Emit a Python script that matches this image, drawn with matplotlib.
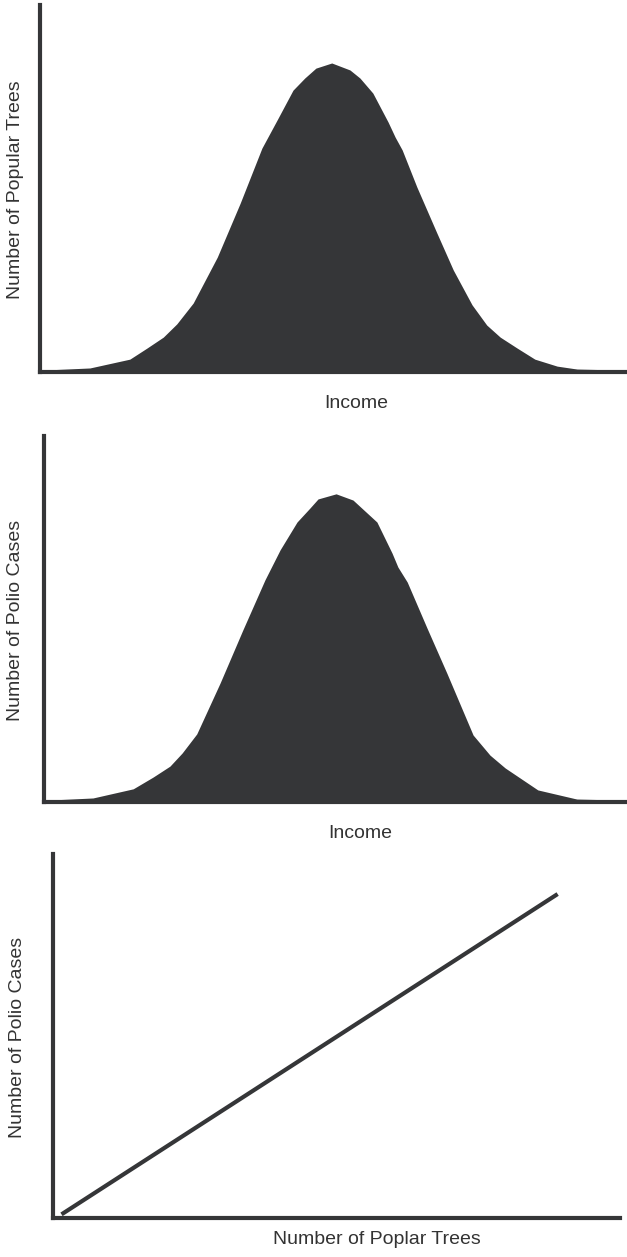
import matplotlib.pyplot as plt

plt.rcParams['font.family'] = ['Liberation Sans', 'DejaVu Sans']

# значения (шкалы 0..100)
income_1 = [0.3, 8.5, 15.3, 18.2, 21.0, 23.3, 26.1, 30.2, 34.1, 37.8, 40.4, 43.1, 45.1, 47.0,
            49.7, 52.8, 54.5, 56.7, 59.3, 60.5, 61.7, 64.2, 67.6, 70.4, 73.6, 76.1, 78.4,
            81.3, 84.3, 88.1, 91.5, 100]
trees_1 = [0.5, 1.1, 3.5, 6.5, 9.5, 13.1, 18.8, 31.3, 46.0, 61.0, 68.7, 76.8, 80.1, 82.8,
           84.2, 82.3, 80.1, 76.0, 68.1, 64.0, 60.5, 50.4, 37.9, 27.8, 18.3, 12.8, 9.5,
           6.5, 3.5, 1.6, 0.8, 0.5]

income_2 = [0.5, 8.4, 15.3, 18.7, 21.6, 23.7, 26.2, 30.2, 34.1, 37.9, 40.5, 43.4, 45.6, 47.0,
            50.1, 53.0, 57.1, 59.7, 60.7, 62.3, 65.7, 69.1, 73.6, 76.5, 79.1, 84.7, 91.4, 100]
polio_2 = [0.5, 1.1, 3.6, 6.8, 9.8, 13.4, 18.6, 32.5, 47.0, 60.7, 68.9, 76.5, 80.3, 82.8,
           84.2, 82.5, 76.5, 68.0, 64.2, 60.1, 47.5, 35.2, 18.3, 12.8, 9.3, 3.3, 0.8, 0.5]

poplar_3 = [1.5, 89]
polio_3 = [1, 89]

labels_y = ['Number of Popular Trees', 'Number of Polio Cases', 'Number of Polio Cases']
labels_x = ['Income', 'Income', 'Number of Poplar Trees']

W, H = 627, 1257
dark = '#353638'
txt = '#333333'

fig = plt.figure(figsize=(W / 100, H / 100), dpi=100)


def make_axes(left, right, top, bottom, lw):
    ax = fig.add_axes([left / W, 1 - bottom / H, (right - left) / W, (bottom - top) / H])
    ax.set_xlim(0, 100)
    ax.set_ylim(0, 100)
    ax.set_xticks([])
    ax.set_yticks([])
    for s in ['top', 'right']:
        ax.spines[s].set_visible(False)
    for s in ['left', 'bottom']:
        ax.spines[s].set_linewidth(lw)
        ax.spines[s].set_color(dark)
        ax.spines[s].set_capstyle('projecting')
    ax.patch.set_alpha(0)
    return ax


ax1 = make_axes(40, 627, 5, 372, 3.0)
ax1.fill_between(income_1, 0, trees_1, color=dark, lw=0)

ax2 = make_axes(44, 627, 436, 802, 3.0)
ax2.fill_between(income_2, 0, polio_2, color=dark, lw=0)

ax3 = make_axes(53, 620, 854, 1218, 3.0)
ax3.plot(poplar_3, polio_3, color=dark, lw=3.0, solid_capstyle='butt')

# подписи осей
ylab_pos = [(16, 190), (16, 620), (18, 1037)]
xlab_pos = [(356, 404), (360, 834), (377, 1240)]
for (x, y), t in zip(ylab_pos, labels_y):
    fig.text(x / W, 1 - y / H, t, rotation=90, ha='center', va='center', fontsize=14, color=txt)
for (x, y), t in zip(xlab_pos, labels_x):
    fig.text(x / W, 1 - y / H, t, ha='center', va='center', fontsize=14, color=txt)

fig.savefig('out.png', dpi=100, facecolor='white')
